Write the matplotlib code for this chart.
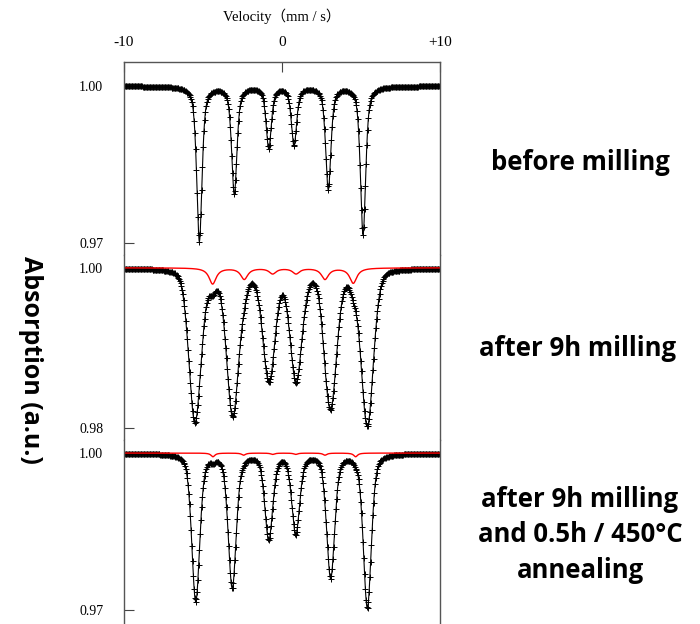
import numpy as np
import matplotlib
matplotlib.use('Agg')
import matplotlib.pyplot as plt

# line positions (mm/s), depths (fraction of baseline), widths and Lorentzian share
pos_before = [-5.23, -3.02, -0.84, 0.76, 2.93, 5.13]
depth_before = [0.0296, 0.0205, 0.0117, 0.0112, 0.0196, 0.0283]
width_before = 0.40
eta_before = 0.6

pos_milled = [-5.51, -3.12, -0.84, 0.89, 3.08, 5.40]
depth_milled = [0.0190, 0.0180, 0.0133, 0.0131, 0.0167, 0.0194]
width_milled = 0.90
eta_milled = 0.25
pos_milled_red = [-4.39, -2.39, -0.59, 0.89, 2.72, 4.51]
depth_milled_red = [0.0020, 0.0014, 0.0007, 0.0007, 0.0014, 0.0019]
width_milled_red = 0.55

pos_annealed = [-5.46, -3.15, -0.84, 0.87, 3.08, 5.40]
depth_annealed = [0.0282, 0.0255, 0.0161, 0.0149, 0.0236, 0.0294]
width_annealed = 0.60
eta_annealed = 0.4
pos_annealed_red = [-4.37, -2.43, -0.59, 0.87, 2.72, 4.66]
depth_annealed_red = [0.0007, 0.0004, 0.00025, 0.00025, 0.0004, 0.0007]
width_annealed_red = 0.30

labels = ['before milling', 'after 9h milling',
          'after 9h milling\nand 0.5h / 450°C\nannealing']


def sextet(v, positions, depths, width, eta=1.0):
    hw = width / 2
    sig = width / 2.3548
    out = np.zeros_like(v)
    for p, d in zip(positions, depths):
        lor = hw**2 / ((v - p)**2 + hw**2)
        gau = np.exp(-(v - p)**2 / (2 * sig**2))
        out += d * (eta * lor + (1 - eta) * gau)
    return out


v_fine = np.linspace(-10, 10, 2000)
v_chan = np.linspace(-10, 10, 420)

fig = plt.figure(figsize=(7, 6.24), dpi=100)
serif = 'Liberation Serif'

# axes boxes in figure fractions (left, bottom, width, height)
left, width = 124 / 700, 316 / 700
boxes = [(left, 1 - 255 / 624, width, 193 / 624),
         (left, 1 - 440 / 624, width, 185 / 624),
         (left, 0.0, width, 184 / 624)]
ylims = [(0.9677, 1.0046), (0.9785, 1.0016), (0.9673, 1.0025)]
low_ticks = [0.97, 0.98, 0.97]

panels = [
    (pos_before, depth_before, width_before, eta_before, None, None, None),
    (pos_milled, depth_milled, width_milled, eta_milled,
     pos_milled_red, depth_milled_red, width_milled_red),
    (pos_annealed, depth_annealed, width_annealed, eta_annealed,
     pos_annealed_red, depth_annealed_red, width_annealed_red),
]

for i, (box, ylim, lt, pan) in enumerate(zip(boxes, ylims, low_ticks, panels)):
    ax = fig.add_axes(box)
    p, d, w, eta, pr, dr, wr = pan
    fit = 1 - sextet(v_fine, p, d, w, eta)
    pts = 1 - sextet(v_chan, p, d, w, eta)
    if pr is not None:
        fit = fit - sextet(v_fine, pr, dr, wr)
        pts = pts - sextet(v_chan, pr, dr, wr)
    ax.plot(v_chan, pts, '+', color='black', ms=4, mew=0.7)
    ax.plot(v_fine, fit, color='black', lw=0.8)
    if pr is not None:
        ax.plot(v_fine, 1 - sextet(v_fine, pr, dr, wr), color='red', lw=1.0)
    ax.set_xlim(-10, 10)
    ax.set_ylim(*ylim)
    ax.set_yticks([lt, 1.00])
    ax.set_yticklabels([f'{lt:.2f}', '1.00'], fontfamily=serif, fontsize=10)
    ax.tick_params(axis='y', direction='in', length=7, pad=15, color='#444444')
    ax.spines['bottom'].set_visible(False)
    for s in ['left', 'right', 'top']:
        ax.spines[s].set_color('#555555')
        ax.spines[s].set_linewidth(1.0)
    if i > 0:
        ax.spines['top'].set_visible(False)
        ax.set_xticks([])
    else:
        ax.xaxis.tick_top()
        ax.set_xticks([-10, 0, 10])
        ax.set_xticklabels(['-10', '0', '+10'], fontfamily=serif, fontsize=11)
        ax.tick_params(axis='x', direction='in', length=7, pad=9, color='#444444')
        ax.xaxis.set_label_position('top')
        ax.set_xlabel('Velocity（mm / s）', fontfamily=['Liberation Serif', 'Noto Sans CJK SC'],
                      fontsize=10.5, labelpad=11)

# sample labels on the right
fig.text(580 / 700, 1 - 162 / 624, labels[0], ha='center', va='center',
         fontsize=18.5, fontweight='bold', family='Open Sans')
fig.text(578 / 700, 1 - 348 / 624, labels[1], ha='center', va='center',
         fontsize=18.5, fontweight='bold', family='Open Sans')
fig.text(580 / 700, 1 - 535 / 624, labels[2], ha='center', va='center',
         fontsize=18.5, fontweight='bold', family='Open Sans', linespacing=1.4)

fig.text(30 / 700, 1 - 360 / 624, 'Absorption (a.u.)', rotation=270, ha='center', va='center',
         fontsize=18, fontweight='bold', family='Open Sans')

fig.savefig('out.png', dpi=100)
